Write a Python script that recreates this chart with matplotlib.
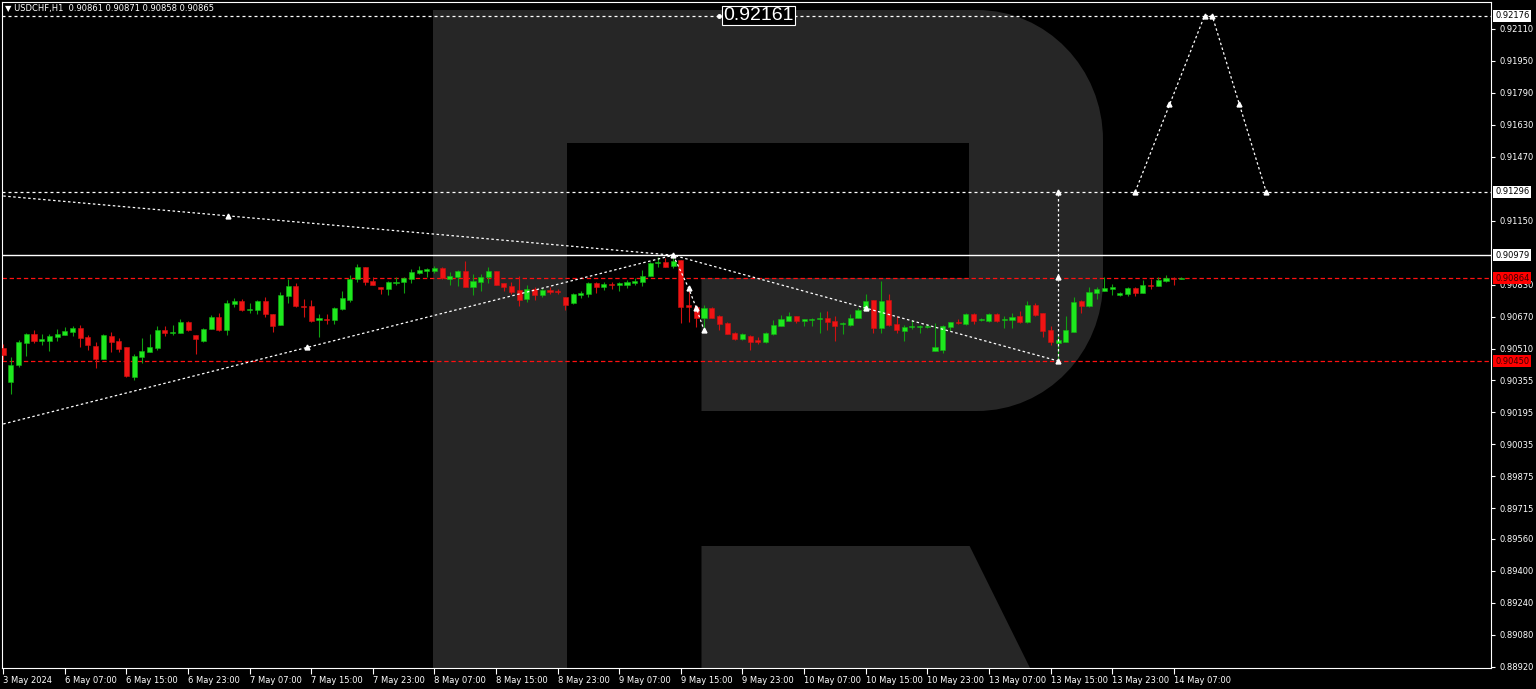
import numpy as np
import matplotlib
matplotlib.use("Agg")
import matplotlib.pyplot as plt
import matplotlib.transforms as mtransforms
from matplotlib.path import Path
from matplotlib.patches import PathPatch

symbol = "USDCHF,H1"
last_ohlc = "0.90861 0.90871 0.90858 0.90865"

# hourly candles, 3 May 23:00 .. 14 May 08:00
opens = [0.90513, 0.90347, 0.90430, 0.90538, 0.90585, 0.90552, 0.90552, 0.90572, 0.90582, 0.90597,
         0.90613, 0.90568, 0.90527, 0.90462, 0.90575, 0.90552, 0.90518, 0.90372, 0.90472, 0.90497,
         0.90515, 0.90605, 0.90592, 0.90592, 0.90645, 0.90580, 0.90552, 0.90612, 0.90672, 0.90605,
         0.90735, 0.90750, 0.90707, 0.90705, 0.90750, 0.90685, 0.90630, 0.90775, 0.90827, 0.90725,
         0.90725, 0.90655, 0.90662, 0.90655, 0.90710, 0.90755, 0.90858, 0.90918, 0.90850, 0.90818,
         0.90808, 0.90838, 0.90847, 0.90860, 0.90892, 0.90902, 0.90900, 0.90913, 0.90860, 0.90872,
         0.90900, 0.90822, 0.90847, 0.90872, 0.90900, 0.90838, 0.90825, 0.90805, 0.90758, 0.90808,
         0.90780, 0.90805, 0.90802, 0.90772, 0.90738, 0.90780, 0.90785, 0.90838, 0.90818, 0.90837,
         0.90830, 0.90830, 0.90842, 0.90847, 0.90877, 0.90938, 0.90947, 0.90927, 0.90955, 0.90728,
         0.90722, 0.90663, 0.90717, 0.90675, 0.90642, 0.90592, 0.90560, 0.90577, 0.90555, 0.90543,
         0.90583, 0.90627, 0.90652, 0.90677, 0.90648, 0.90655, 0.90658, 0.90663, 0.90650, 0.90633,
         0.90630, 0.90667, 0.90705, 0.90755, 0.90613, 0.90755, 0.90635, 0.90602, 0.90618, 0.90618,
         0.90622, 0.90502, 0.90505, 0.90618, 0.90647, 0.90635, 0.90683, 0.90655, 0.90652, 0.90683,
         0.90655, 0.90655, 0.90675, 0.90643, 0.90730, 0.90688, 0.90605, 0.90540, 0.90547, 0.90597,
         0.90750, 0.90725, 0.90792, 0.90802, 0.90808, 0.90780, 0.90783, 0.90817, 0.90792, 0.90830,
         0.90827, 0.90852, 0.90863, 0.90861]
highs = [0.90533, 0.90468, 0.90555, 0.90588, 0.90605, 0.90585, 0.90585, 0.90608, 0.90618, 0.90625,
         0.90630, 0.90580, 0.90547, 0.90585, 0.90595, 0.90563, 0.90518, 0.90483, 0.90567, 0.90585,
         0.90625, 0.90625, 0.90630, 0.90658, 0.90650, 0.90580, 0.90613, 0.90680, 0.90692, 0.90755,
         0.90763, 0.90758, 0.90738, 0.90755, 0.90768, 0.90685, 0.90797, 0.90860, 0.90838, 0.90758,
         0.90755, 0.90683, 0.90685, 0.90722, 0.90800, 0.90880, 0.90933, 0.90918, 0.90868, 0.90818,
         0.90850, 0.90868, 0.90868, 0.90908, 0.90927, 0.90913, 0.90925, 0.90918, 0.90893, 0.90905,
         0.90950, 0.90883, 0.90883, 0.90922, 0.90902, 0.90842, 0.90843, 0.90875, 0.90830, 0.90818,
         0.90813, 0.90822, 0.90810, 0.90772, 0.90788, 0.90800, 0.90843, 0.90847, 0.90843, 0.90843,
         0.90843, 0.90855, 0.90863, 0.90905, 0.90947, 0.90968, 0.90963, 0.90979, 0.90955, 0.90813,
         0.90730, 0.90730, 0.90722, 0.90680, 0.90647, 0.90597, 0.90588, 0.90580, 0.90572, 0.90593,
         0.90655, 0.90680, 0.90697, 0.90677, 0.90660, 0.90667, 0.90693, 0.90700, 0.90675, 0.90643,
         0.90683, 0.90713, 0.90783, 0.90755, 0.90850, 0.90783, 0.90677, 0.90630, 0.90655, 0.90630,
         0.90635, 0.90638, 0.90630, 0.90647, 0.90660, 0.90692, 0.90688, 0.90667, 0.90688, 0.90688,
         0.90677, 0.90688, 0.90700, 0.90750, 0.90738, 0.90690, 0.90625, 0.90575, 0.90675, 0.90772,
         0.90755, 0.90818, 0.90818, 0.90868, 0.90835, 0.90797, 0.90822, 0.90818, 0.90855, 0.90858,
         0.90868, 0.90880, 0.90872, 0.90871]
lows = [0.90455, 0.90283, 0.90418, 0.90477, 0.90542, 0.90530, 0.90502, 0.90552, 0.90580, 0.90575,
        0.90518, 0.90505, 0.90413, 0.90458, 0.90497, 0.90497, 0.90368, 0.90357, 0.90442, 0.90497,
        0.90505, 0.90577, 0.90580, 0.90588, 0.90600, 0.90485, 0.90547, 0.90608, 0.90600, 0.90580,
        0.90722, 0.90700, 0.90688, 0.90683, 0.90668, 0.90597, 0.90630, 0.90738, 0.90722, 0.90672,
        0.90647, 0.90572, 0.90635, 0.90635, 0.90705, 0.90747, 0.90847, 0.90830, 0.90830, 0.90783,
        0.90778, 0.90830, 0.90792, 0.90842, 0.90885, 0.90872, 0.90892, 0.90862, 0.90830, 0.90825,
        0.90822, 0.90780, 0.90802, 0.90842, 0.90830, 0.90802, 0.90783, 0.90727, 0.90747, 0.90755,
        0.90772, 0.90785, 0.90783, 0.90705, 0.90735, 0.90763, 0.90772, 0.90792, 0.90805, 0.90810,
        0.90802, 0.90813, 0.90830, 0.90827, 0.90875, 0.90922, 0.90918, 0.90913, 0.90642, 0.90647,
        0.90618, 0.90613, 0.90663, 0.90605, 0.90583, 0.90555, 0.90555, 0.90505, 0.90535, 0.90538,
        0.90580, 0.90625, 0.90650, 0.90638, 0.90625, 0.90625, 0.90592, 0.90605, 0.90552, 0.90585,
        0.90625, 0.90663, 0.90700, 0.90592, 0.90592, 0.90625, 0.90592, 0.90552, 0.90608, 0.90592,
        0.90613, 0.90502, 0.90492, 0.90602, 0.90635, 0.90630, 0.90635, 0.90650, 0.90647, 0.90643,
        0.90617, 0.90617, 0.90638, 0.90638, 0.90677, 0.90572, 0.90530, 0.90452, 0.90547, 0.90597,
        0.90692, 0.90722, 0.90758, 0.90802, 0.90780, 0.90777, 0.90777, 0.90777, 0.90788, 0.90810,
        0.90827, 0.90847, 0.90830, 0.90858]
closes = [0.90480, 0.90430, 0.90547, 0.90585, 0.90552, 0.90558, 0.90575, 0.90585, 0.90600, 0.90613,
          0.90563, 0.90530, 0.90458, 0.90578, 0.90545, 0.90512, 0.90375, 0.90475, 0.90498, 0.90518,
          0.90605, 0.90592, 0.90597, 0.90643, 0.90605, 0.90558, 0.90608, 0.90672, 0.90605, 0.90738,
          0.90750, 0.90705, 0.90710, 0.90750, 0.90683, 0.90625, 0.90780, 0.90827, 0.90727, 0.90722,
          0.90652, 0.90667, 0.90657, 0.90717, 0.90763, 0.90858, 0.90918, 0.90847, 0.90832, 0.90810,
          0.90847, 0.90847, 0.90863, 0.90893, 0.90905, 0.90908, 0.90913, 0.90863, 0.90877, 0.90900,
          0.90822, 0.90850, 0.90872, 0.90900, 0.90830, 0.90822, 0.90797, 0.90755, 0.90808, 0.90780,
          0.90805, 0.90797, 0.90793, 0.90730, 0.90783, 0.90792, 0.90842, 0.90818, 0.90835, 0.90832,
          0.90838, 0.90847, 0.90852, 0.90877, 0.90942, 0.90943, 0.90922, 0.90952, 0.90722, 0.90718,
          0.90663, 0.90713, 0.90667, 0.90635, 0.90585, 0.90558, 0.90585, 0.90547, 0.90547, 0.90592,
          0.90630, 0.90658, 0.90677, 0.90650, 0.90658, 0.90660, 0.90663, 0.90647, 0.90625, 0.90638,
          0.90667, 0.90705, 0.90750, 0.90613, 0.90750, 0.90630, 0.90605, 0.90622, 0.90625, 0.90625,
          0.90627, 0.90518, 0.90625, 0.90647, 0.90638, 0.90683, 0.90652, 0.90660, 0.90685, 0.90650,
          0.90660, 0.90672, 0.90643, 0.90730, 0.90680, 0.90600, 0.90547, 0.90555, 0.90605, 0.90747,
          0.90725, 0.90797, 0.90808, 0.90813, 0.90822, 0.90792, 0.90817, 0.90788, 0.90830, 0.90825,
          0.90855, 0.90863, 0.90858, 0.90865]

time_labels = ["3 May 2024", "6 May 07:00", "6 May 15:00", "6 May 23:00", "7 May 07:00",
               "7 May 15:00", "7 May 23:00", "8 May 07:00", "8 May 15:00", "8 May 23:00",
               "9 May 07:00", "9 May 15:00", "9 May 23:00", "10 May 07:00", "10 May 15:00",
               "10 May 23:00", "13 May 07:00", "13 May 15:00", "13 May 23:00", "14 May 07:00"]
label_step = 8

price_ticks = [0.92110, 0.91950, 0.91790, 0.91630, 0.91470, 0.91150, 0.90830, 0.90670,
               0.90510, 0.90355, 0.90195, 0.90035, 0.89875, 0.89715, 0.89560, 0.89400,
               0.89240, 0.89080, 0.88920]

# horizontal levels
level_top = 0.92176
level_target = 0.91296
level_resist = 0.90979
level_mid = 0.90864
level_low = 0.90450
forecast_text = "0.92161"

# analysis lines (bar index, price)
fan_down_x = [0, 87, 137]
fan_down_y = [0.91275, 0.90979, 0.90450]
fan_up_x = [0, 87]
fan_up_y = [0.90135, 0.90979]
drop_x = [87, 89, 90, 91]
drop_y = [0.90979, 0.90815, 0.90715, 0.90605]
vert_x = [137, 137]
vert_y = [0.90450, 0.91296]
fcst_x = [147, 156, 157, 164]
fcst_y = [0.91296, 0.92176, 0.92176, 0.91296]
arrow_x = [29.2, 39.5, 87, 89, 90, 91, 112, 137, 137, 137, 147, 151.4, 156, 157, 160.5, 164]
arrow_y = [0.91176, 0.90518, 0.90979, 0.90815, 0.90715, 0.90605, 0.90715, 0.90450, 0.90870,
           0.91296, 0.91296, 0.91734, 0.92176, 0.92176, 0.91734, 0.91296]

W, H = 1536, 689
fig = plt.figure(figsize=(W / 100, H / 100), dpi=100, facecolor="black")

# watermark logo in pixel space
bg = fig.add_axes([0, 0, 1, 1], zorder=0)
bg.set_xlim(0, W)
bg.set_ylim(H, 0)
bg.axis("off")
k = 0.5523
verts = [(433, 10), (977, 10), (977 + k * 126, 10), (1103, 140 - k * 130), (1103, 140),
         (1103, 281), (1103, 281 + k * 130), (977 + k * 126, 411), (977, 411),
         (701.5, 411), (701.5, 278), (969, 278), (969, 143), (567, 143), (567, 668),
         (433, 668), (433, 10)]
codes = [Path.MOVETO, Path.LINETO, Path.CURVE4, Path.CURVE4, Path.CURVE4,
         Path.LINETO, Path.CURVE4, Path.CURVE4, Path.CURVE4,
         Path.LINETO, Path.LINETO, Path.LINETO, Path.LINETO, Path.LINETO, Path.LINETO,
         Path.LINETO, Path.CLOSEPOLY]
bg.add_patch(PathPatch(Path(verts, codes), fc="#262626", ec="none"))
leg = [(701.5, 546), (969.6, 546), (1030, 668), (701.5, 668), (701.5, 546)]
bg.add_patch(PathPatch(Path(leg, closed=True), fc="#262626", ec="none"))

ax = fig.add_axes([2 / W, (H - 668) / H, 1489 / W, 666 / H], zorder=1)
ax.set_facecolor("none")
ax.set_xlim(-0.16, 193.2)
ax.set_ylim(0.88915, 0.92245)

o = np.array(opens)
c = np.array(closes)
hi = np.array(highs)
lo = np.array(lows)
idx = np.arange(len(o))
up = c >= o
dn = ~up
body_lo = np.minimum(o, c)
body_h = np.maximum(np.abs(c - o), 0.00004)

ax.vlines(idx[up], lo[up], hi[up], color="#10a010", lw=0.8, zorder=3)
ax.vlines(idx[dn], lo[dn], hi[dn], color="#d01010", lw=0.8, zorder=3)
ax.bar(idx[up], body_h[up], bottom=body_lo[up], width=0.66, color="#1ee81e",
       edgecolor="#12b012", linewidth=0.4, zorder=4)
ax.bar(idx[dn], body_h[dn], bottom=body_lo[dn], width=0.66, color="#f01414",
       edgecolor="#d01010", linewidth=0.4, zorder=4)

dot = (0, (2.4, 2.4))
ax.axhline(level_top, color="white", lw=0.9, ls=dot, zorder=2)
ax.axhline(level_target, color="white", lw=0.9, ls=dot, zorder=2)
ax.axhline(level_resist, color="white", lw=1.0, zorder=2)
ax.axhline(level_mid, color="#ff1010", lw=0.9, ls=(0, (3.5, 2.2)), zorder=2)
ax.axhline(level_low, color="#ff1010", lw=0.9, ls=(0, (3.5, 2.2)), zorder=2)

for xs, ys in [(fan_down_x, fan_down_y), (fan_up_x, fan_up_y), (drop_x, drop_y),
               (vert_x, vert_y), (fcst_x, fcst_y)]:
    ax.plot(xs, ys, color="white", lw=0.9, ls=(0, (2, 2)), zorder=5)
ax.plot(arrow_x, arrow_y, ls="none", marker="^", ms=3.5, color="white", zorder=6)

# forecast label on top line
ax.plot([92.9], [level_top], marker="o", ms=2.5, color="white", zorder=6)
ax.text(93.5, level_top, forecast_text, fontsize=14, family="Liberation Sans", color="white",
        ha="left", va="center", zorder=7,
        bbox=dict(boxstyle="square,pad=0.06", fc="black", ec="white", lw=0.8))

for s in ax.spines.values():
    s.set_color("white")
    s.set_linewidth(0.8)

ax.yaxis.tick_right()
ax.set_yticks(price_ticks)
ax.set_yticklabels([f"{p:.5f}" for p in price_ticks])
ax.tick_params(axis="y", colors="white", labelsize=6, length=3, width=0.8, pad=3)

ax.set_xticks(idx[::label_step])
ax.set_xticklabels(time_labels)
ax.tick_params(axis="x", colors="white", labelsize=6, length=4, width=0.8, pad=2)
for lbl in ax.get_xticklabels():
    lbl.set_horizontalalignment("left")

# price boxes on the right scale
trans = mtransforms.blended_transform_factory(ax.transAxes, ax.transData)
boxes = [(level_top, "white", "black"), (level_target, "white", "black"),
         (level_resist, "white", "black"), (level_mid, "#ff0000", "#3a0000"),
         (level_low, "#ff0000", "#3a0000")]
for val, fc, tc in boxes:
    ax.text(1.0 + 4 / 1489, val, f"{val:.5f}", transform=trans, fontsize=6, color=tc,
            ha="left", va="center", zorder=8, clip_on=False,
            bbox=dict(boxstyle="square,pad=0.2", fc=fc, ec="none"))

fig.text(5 / W, 1 - 9 / H, f"\u25bc {symbol}  {last_ohlc}", fontsize=6, color="white",
         ha="left", va="center")

fig.savefig("out.png", dpi=100, facecolor="black")
